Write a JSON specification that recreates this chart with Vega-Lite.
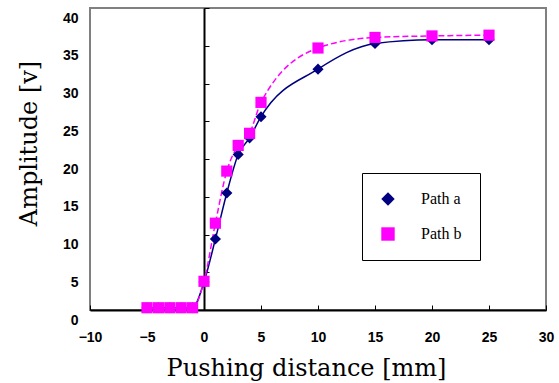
{
  "$schema": "https://vega.github.io/schema/vega-lite/v6.json",
  "width": 456,
  "height": 302,
  "autosize": "none",
  "padding": {"left": 90, "top": 8, "right": 13, "bottom": 73},
  "background": "white",
  "config": {
    "view": {"stroke": "#808080", "strokeWidth": 2},
    "axis": {"grid": false}
  },
  "data": {
    "values": [
      {"series": "Path a", "distance": -5, "amplitude": 0.3},
      {"series": "Path a", "distance": -4, "amplitude": 0.3},
      {"series": "Path a", "distance": -3, "amplitude": 0.3},
      {"series": "Path a", "distance": -2, "amplitude": 0.3},
      {"series": "Path a", "distance": -1, "amplitude": 0.3},
      {"series": "Path a", "distance": 0, "amplitude": 3.7},
      {"series": "Path a", "distance": 1, "amplitude": 9.4},
      {"series": "Path a", "distance": 2, "amplitude": 15.5},
      {"series": "Path a", "distance": 3, "amplitude": 20.6},
      {"series": "Path a", "distance": 4, "amplitude": 22.8},
      {"series": "Path a", "distance": 5, "amplitude": 25.6},
      {"series": "Path a", "distance": 10, "amplitude": 31.9},
      {"series": "Path a", "distance": 15, "amplitude": 35.3},
      {"series": "Path a", "distance": 20, "amplitude": 35.8},
      {"series": "Path a", "distance": 25, "amplitude": 35.8},
      {"series": "Path b", "distance": -5, "amplitude": 0.3},
      {"series": "Path b", "distance": -4, "amplitude": 0.3},
      {"series": "Path b", "distance": -3, "amplitude": 0.3},
      {"series": "Path b", "distance": -2, "amplitude": 0.3},
      {"series": "Path b", "distance": -1, "amplitude": 0.3},
      {"series": "Path b", "distance": 0, "amplitude": 3.8},
      {"series": "Path b", "distance": 1, "amplitude": 11.5},
      {"series": "Path b", "distance": 2, "amplitude": 18.4},
      {"series": "Path b", "distance": 3, "amplitude": 21.8},
      {"series": "Path b", "distance": 4, "amplitude": 23.4},
      {"series": "Path b", "distance": 5, "amplitude": 27.5},
      {"series": "Path b", "distance": 10, "amplitude": 34.7},
      {"series": "Path b", "distance": 15, "amplitude": 36.1},
      {"series": "Path b", "distance": 20, "amplitude": 36.3},
      {"series": "Path b", "distance": 25, "amplitude": 36.4}
    ]
  },
  "layer": [
    {
      "transform": [{"filter": "datum.series === 'Path a'"}],
      "mark": {"type": "line", "interpolate": "monotone", "strokeWidth": 1.5, "color": "#000080"},
      "encoding": {
        "x": {
          "field": "distance", "type": "quantitative",
          "scale": {"domain": [-10, 30], "nice": false, "zero": false},
          "axis": {
            "values": [-10, -5, 0, 5, 10, 15, 20, 25, 30],
            "title": "Pushing distance [mm]",
            "domainColor": "black", "domainWidth": 2,
            "tickColor": "black", "tickSize": -5, "tickWidth": 1,
            "labelFont": "Liberation Sans", "labelFontWeight": "bold", "labelFontSize": 14,
            "labelColor": "black", "labelPadding": 25, "labelFlush": false, "labelOverlap": false,
            "titleFont": "DejaVu Serif", "titleFontSize": 24, "titleFontWeight": "normal", "titleColor": "black",
            "titleX": 216, "titleY": 65, "titleBaseline": "alphabetic", "titleAlign": "center"
          }
        },
        "y": {
          "field": "amplitude", "type": "quantitative",
          "scale": {"domain": [0, 40], "nice": false},
          "axis": {
            "values": [0, 5, 10, 15, 20, 25, 30, 35, 40],
            "orient": "left", "offset": -114,
            "labels": false, "title": null,
            "domainColor": "black", "domainWidth": 2,
            "tickColor": "black", "tickSize": -5, "tickWidth": 1
          }
        }
      }
    },
    {
      "transform": [{"filter": "datum.series === 'Path b'"}],
      "mark": {"type": "line", "interpolate": "monotone", "strokeWidth": 1.5, "color": "#FF00FF", "strokeDash": [6, 3]},
      "encoding": {
        "x": {
          "field": "distance", "type": "quantitative",
          "axis": {
            "values": [-10, -5, 0, 5, 10, 15, 20, 25, 30],
            "title": "Pushing distance [mm]",
            "domainColor": "black", "domainWidth": 2,
            "tickColor": "black", "tickSize": -5, "tickWidth": 1,
            "labelFont": "Liberation Sans", "labelFontWeight": "bold", "labelFontSize": 14,
            "labelColor": "black", "labelPadding": 25, "labelFlush": false, "labelOverlap": false,
            "titleFont": "DejaVu Serif", "titleFontSize": 24, "titleFontWeight": "normal", "titleColor": "black",
            "titleX": 216, "titleY": 65, "titleBaseline": "alphabetic", "titleAlign": "center"
          }
        },
        "y": {"field": "amplitude", "type": "quantitative", "axis": null}
      }
    },
    {
      "mark": {"type": "point", "filled": true, "size": 125, "opacity": 1},
      "encoding": {
        "x": {
          "field": "distance", "type": "quantitative",
          "axis": {
            "values": [-10, -5, 0, 5, 10, 15, 20, 25, 30],
            "title": "Pushing distance [mm]",
            "domainColor": "black", "domainWidth": 2,
            "tickColor": "black", "tickSize": -5, "tickWidth": 1,
            "labelFont": "Liberation Sans", "labelFontWeight": "bold", "labelFontSize": 14,
            "labelColor": "black", "labelPadding": 25, "labelFlush": false, "labelOverlap": false,
            "titleFont": "DejaVu Serif", "titleFontSize": 24, "titleFontWeight": "normal", "titleColor": "black",
            "titleX": 216, "titleY": 65, "titleBaseline": "alphabetic", "titleAlign": "center"
          }
        },
        "y": {
          "field": "amplitude", "type": "quantitative",
          "axis": {
            "values": [0, 5, 10, 15, 20, 25, 30, 35, 40],
            "orient": "left", "domain": false, "ticks": false, "tickSize": 0,
            "labelPadding": 12, "labelOffset": 10,
            "labelFont": "Liberation Sans", "labelFontWeight": "bold", "labelFontSize": 14,
            "labelColor": "black", "labelFlush": false, "labelOverlap": false,
            "title": "Amplitude [v]",
            "titleFont": "DejaVu Serif", "titleFontSize": 24, "titleFontWeight": "normal", "titleColor": "black",
            "titleX": -54, "titleY": 135, "titleAngle": -90, "titleBaseline": "alphabetic", "titleAlign": "center"
          }
        },
        "color": {
          "field": "series", "type": "nominal",
          "scale": {"domain": ["Path a", "Path b"], "range": ["#000080", "#FF00FF"]},
          "legend": {
            "title": null, "orient": "none", "legendX": 272, "legendY": 165,
            "strokeColor": "black", "fillColor": "white", "padding": 18, "rowPadding": 19,
            "symbolSize": 180, "symbolStrokeWidth": 0,
            "labelFont": "Liberation Serif", "labelFontSize": 16, "labelColor": "black", "labelOffset": 25
          }
        },
        "shape": {
          "field": "series", "type": "nominal",
          "scale": {"domain": ["Path a", "Path b"], "range": ["diamond", "square"]},
          "legend": {
            "title": null, "orient": "none", "legendX": 272, "legendY": 165,
            "strokeColor": "black", "fillColor": "white", "padding": 18, "rowPadding": 19,
            "symbolSize": 180, "symbolStrokeWidth": 0,
            "labelFont": "Liberation Serif", "labelFontSize": 16, "labelColor": "black", "labelOffset": 25
          }
        }
      }
    }
  ],
  "resolve": {"axis": {"y": "independent"}}
}
